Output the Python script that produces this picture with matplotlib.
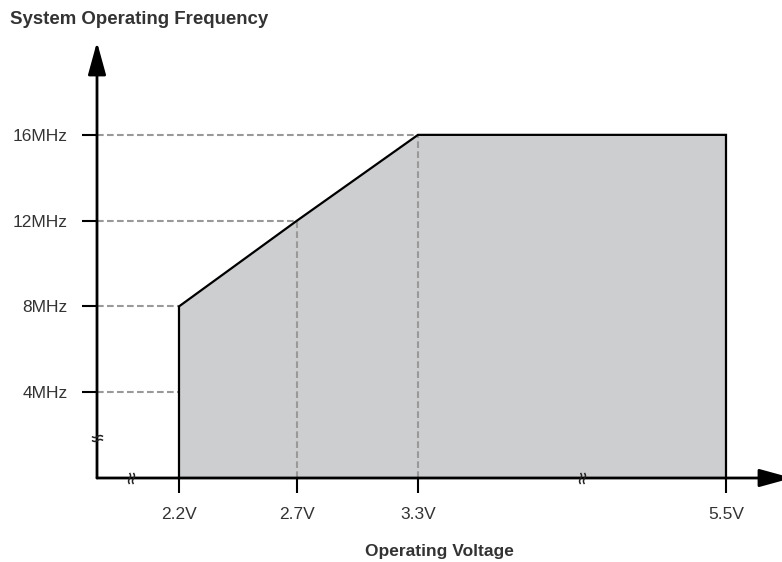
import matplotlib
matplotlib.use("Agg")
import numpy as np
import matplotlib.pyplot as plt
from matplotlib.path import Path

plt.rcParams["font.family"] = ["Liberation Sans", "DejaVu Sans"]

# operating envelope: max system frequency (MHz) per supply voltage (V)
VOLTS = [2.2, 2.7, 3.3, 5.5]
FREQ_MAX = [8, 12, 16, 16]
X_TICK_LABELS = ["2.2V", "2.7V", "3.3V", "5.5V"]
Y_TICKS = [4, 8, 12, 16]
Y_TICK_LABELS = ["4MHz", "8MHz", "12MHz", "16MHz"]

TEXT_COLOR = "#333333"
FILL_COLOR = "#cdced0"
GUIDE_COLOR = "#999999"

# broken voltage axis: piecewise-linear placement of the voltages
V_KNOTS = [1.8, 2.2, 2.7, 3.3, 5.5, 5.8]
P_KNOTS = [0, 82, 200, 321, 629, 685]


def fwd(v):
    return np.interp(v, V_KNOTS, P_KNOTS)


def inv(p):
    return np.interp(p, P_KNOTS, V_KNOTS)


def break_marker(vertical=True):
    """Two small wavy strokes used as an axis-break sign."""
    t = np.linspace(-1, 1, 25)
    verts, codes = [], []
    for off in (-0.35, 0.35):
        pts = np.column_stack([off + 0.18 * np.sin(np.pi * t), t])
        if not vertical:
            pts = pts[:, ::-1]
        verts.extend(pts)
        codes.extend([Path.MOVETO] + [Path.LINETO] * (len(t) - 1))
    return Path(np.array(verts), codes)


W, H = 782, 562
fig = plt.figure(figsize=(W / 100, H / 100), dpi=100)
ox, oy, top = 97, 478, 42
ax = fig.add_axes([ox / W, (H - oy) / H, (W - ox) / W, (oy - top) / H])
ax.set_xscale("function", functions=(fwd, inv))
ax.set_xlim(V_KNOTS[0], V_KNOTS[-1])
ax.set_ylim(0, 20.33)

# shaded operating region
poly_v = [VOLTS[0]] + VOLTS + [VOLTS[-1]]
poly_f = [0] + FREQ_MAX + [0]
ax.fill(poly_v, poly_f, color=FILL_COLOR, lw=0, zorder=1)
ax.plot(poly_v, poly_f, color="black", lw=1.6, zorder=4,
        solid_joinstyle="miter", clip_on=False)

# dashed guides from the axes to the envelope
for f in Y_TICKS:
    v_end = np.interp(f, FREQ_MAX[:3], VOLTS[:3])
    ax.plot([V_KNOTS[0], v_end], [f, f], color=GUIDE_COLOR, lw=1.5,
            dashes=(3.2, 1.6), zorder=2)
for v, f in zip(VOLTS[1:3], FREQ_MAX[1:3]):
    ax.plot([v, v], [0, f], color=GUIDE_COLOR, lw=1.5, dashes=(3.2, 1.6), zorder=3)

# axes drawn as arrows
for sp in ax.spines.values():
    sp.set_visible(False)
arrow = dict(arrowstyle="-|>,head_length=2.0,head_width=0.55", mutation_scale=10,
             lw=2, color="black", shrinkA=0, shrinkB=0)
ax.annotate("", xy=(0, 1), xytext=(0, 0), xycoords="axes fraction", arrowprops=arrow)
ax.annotate("", xy=(1 + 10 / (W - ox), 0), xytext=(0, 0), xycoords="axes fraction",
            arrowprops=arrow, annotation_clip=False)

# axis-break marks
ax.plot([1.966, 4.47], [0, 0], linestyle="none", marker=break_marker(True),
        markersize=8, mfc="none", mec="#222222", mew=1.1, zorder=6, clip_on=False)
ax.plot([V_KNOTS[0]], [1.86], linestyle="none", marker=break_marker(False),
        markersize=8, mfc="none", mec="#222222", mew=1.1, zorder=6, clip_on=False)

ax.set_xticks(VOLTS)
ax.set_xticklabels(X_TICK_LABELS)
ax.set_yticks(Y_TICKS)
ax.set_yticklabels(Y_TICK_LABELS)
ax.xaxis.set_minor_locator(matplotlib.ticker.NullLocator())
ax.tick_params(axis="x", direction="out", length=11, width=1.5, pad=10,
               labelsize=12.5, labelcolor=TEXT_COLOR)
ax.tick_params(axis="y", direction="out", length=11, width=1.5, pad=10,
               labelsize=12.5, labelcolor=TEXT_COLOR)

ax.set_xlabel("Operating Voltage", fontsize=12.5, fontweight="bold",
              color=TEXT_COLOR, labelpad=16)
fig.text(10 / W, 1 - 19 / H, "System Operating Frequency", fontsize=13.4,
         fontweight="bold", color=TEXT_COLOR, ha="left", va="center")

fig.savefig("out.png", dpi=100)
